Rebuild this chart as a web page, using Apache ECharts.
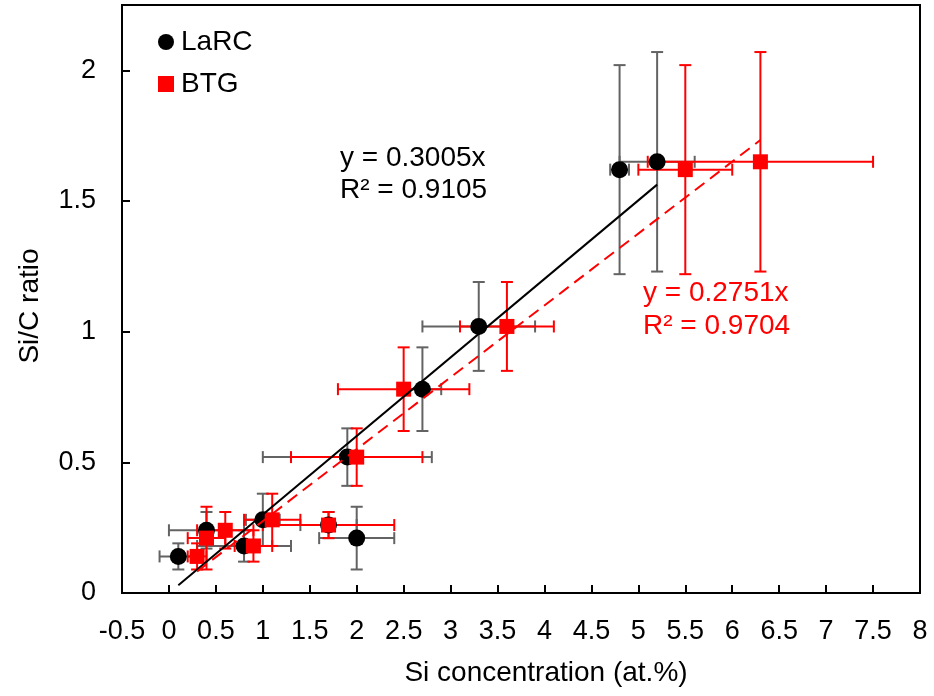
<!DOCTYPE html>
<html>
<head>
<meta charset="utf-8">
<script src="https://cdn.jsdelivr.net/npm/echarts@6/dist/echarts.min.js"></script>
<style>
  html, body { margin: 0; padding: 0; background: #fff; }
  #chart { width: 934px; height: 696px; }
</style>
</head>
<body>
<div id="chart"></div>
<script>
// LaRC samples (x = Si at.%, y = Si/C ratio)
const larcX = [0.1, 0.4, 0.8, 1.0, 1.7, 2.0, 1.9, 2.7, 3.3, 4.8, 5.2];
const larcY = [0.14, 0.24, 0.18, 0.28, 0.26, 0.21, 0.52, 0.78, 1.02, 1.62, 1.65];
const larcXErr = [0.2, 0.4, 0.5, 0.18, 0.3, 0.4, 0.9, 0.2, 0.6, 0.1, 0.4];
// BTG samples
const btgX = [0.3, 0.6, 0.9, 1.1, 1.7, 0.4, 2.0, 2.5, 3.6, 5.5, 6.3];
const btgY = [0.14, 0.24, 0.18, 0.28, 0.26, 0.21, 0.52, 0.78, 1.02, 1.62, 1.65];
const btgXErr = [0.1, 0.3, 0.2, 0.3, 0.7, 0.2, 0.7, 0.7, 0.5, 0.5, 1.2];
// Si/C error, same for both sets
const yErr = [0.05, 0.07, 0.06, 0.1, 0.05, 0.12, 0.11, 0.16, 0.17, 0.4, 0.42];

// linear fits through origin
const larcSlope = 0.3005;
const btgSlope = 0.2751;
const larcR2 = 0.9105;
const btgR2 = 0.9704;

const GRAY = '#636363';
const RED = '#ff0000';
const FONT = 'Liberation Sans, Arial, sans-serif';

const pts = (xs, ys) => xs.map((x, i) => [x, ys[i]]);
const errs = (xs, ys, xe) => xs.map((x, i) => [x, ys[i], xe[i], yErr[i]]);
const fitLine = (xs, k) => {
  const lo = Math.min(...xs), hi = Math.max(...xs);
  return [[lo, k * lo], [hi, k * hi]];
};

// error bars with caps
function errorBars(color) {
  return function (params, api) {
    const x = api.value(0), y = api.value(1), dx = api.value(2), dy = api.value(3);
    const l = api.coord([x - dx, y]), r = api.coord([x + dx, y]);
    const t = api.coord([x, y + dy]), b = api.coord([x, y - dy]);
    const c = 6;
    const style = { stroke: color, lineWidth: 2 };
    const seg = (x1, y1, x2, y2) => ({ type: 'line', shape: { x1, y1, x2, y2 }, style });
    return {
      type: 'group',
      children: [
        seg(l[0], l[1], r[0], r[1]),
        seg(t[0], t[1], b[0], b[1]),
        seg(l[0], l[1] - c, l[0], l[1] + c),
        seg(r[0], r[1] - c, r[0], r[1] + c),
        seg(t[0] - c, t[1], t[0] + c, t[1]),
        seg(b[0] - c, b[1], b[0] + c, b[1])
      ]
    };
  };
}

const chart = echarts.init(document.getElementById('chart'), null, { renderer: 'canvas' });

const axisBase = {
  type: 'value',
  nameLocation: 'middle',
  nameTextStyle: { fontSize: 28, color: '#000', fontFamily: FONT },
  axisLine: { onZero: false, lineStyle: { color: '#000', width: 2 } },
  axisTick: { inside: true, length: 8, lineStyle: { color: '#000', width: 2 } },
  splitLine: { show: false }
};

const option = {
  animation: false,
  backgroundColor: '#fff',
  textStyle: { fontFamily: FONT },
  grid: {
    left: 122, right: 14, top: 5, bottom: 103,
    show: true, borderColor: '#000', borderWidth: 2
  },
  legend: {
    orient: 'vertical',
    left: 153,
    top: 23,
    itemGap: 14,
    itemWidth: 16,
    itemHeight: 16,
    textStyle: { fontSize: 28, color: '#000', fontFamily: FONT, padding: [0, 0, 0, 2] },
    data: [
      { name: 'LaRC', icon: 'circle', itemStyle: { color: '#000' } },
      { name: 'BTG', icon: 'rect', itemStyle: { color: RED } }
    ]
  },
  xAxis: {
    ...axisBase,
    min: -0.5, max: 8, interval: 0.5,
    name: 'Si concentration (at.%)',
    nameGap: 66,
    nameTextStyle: { ...axisBase.nameTextStyle, padding: [0, 0, 0, 50] },
    axisLabel: { fontSize: 27, color: '#000', margin: 25, fontFamily: FONT }
  },
  yAxis: {
    ...axisBase,
    min: 0, max: 2.25, interval: 0.5,
    name: 'Si/C ratio',
    nameGap: 78,
    nameTextStyle: { ...axisBase.nameTextStyle, padding: [0, 0, 0, -14] },
    axisLabel: { fontSize: 27, color: '#000', margin: 26, showMaxLabel: false, fontFamily: FONT }
  },
  graphic: [
    { type: 'text', left: 340, top: 144, style: { text: 'y = ' + larcSlope.toFixed(4) + 'x', fontSize: 28, fill: '#000', fontFamily: FONT } },
    { type: 'text', left: 340, top: 176, style: { text: 'R² = ' + larcR2.toFixed(4), fontSize: 28, fill: '#000', fontFamily: FONT } },
    { type: 'text', left: 643, top: 279, style: { text: 'y = ' + btgSlope.toFixed(4) + 'x', fontSize: 28, fill: RED, fontFamily: FONT } },
    { type: 'text', left: 643, top: 312, style: { text: 'R² = ' + btgR2.toFixed(4), fontSize: 28, fill: RED, fontFamily: FONT } }
  ],
  series: [
    {
      name: 'LaRC err', type: 'custom', renderItem: errorBars(GRAY),
      data: errs(larcX, larcY, larcXErr), encode: { x: 0, y: 1 }, silent: true
    },
    {
      name: 'LaRC', type: 'scatter', symbol: 'circle', symbolSize: 17,
      itemStyle: { color: '#000', opacity: 1 }, data: pts(larcX, larcY)
    },
    {
      name: 'BTG err', type: 'custom', renderItem: errorBars(RED),
      data: errs(btgX, btgY, btgXErr), encode: { x: 0, y: 1 }, silent: true
    },
    {
      name: 'BTG', type: 'scatter', symbol: 'rect', symbolSize: 15,
      itemStyle: { color: RED, opacity: 1 }, data: pts(btgX, btgY)
    },
    {
      name: 'LaRC fit', type: 'line', symbol: 'none', silent: true,
      lineStyle: { color: '#000', width: 2 },
      data: fitLine(larcX, larcSlope)
    },
    {
      name: 'BTG fit', type: 'line', symbol: 'none', silent: true,
      lineStyle: { color: RED, width: 2, type: [12, 7] },
      data: fitLine(btgX, btgSlope)
    }
  ]
};

chart.setOption(option);
</script>
</body>
</html>
